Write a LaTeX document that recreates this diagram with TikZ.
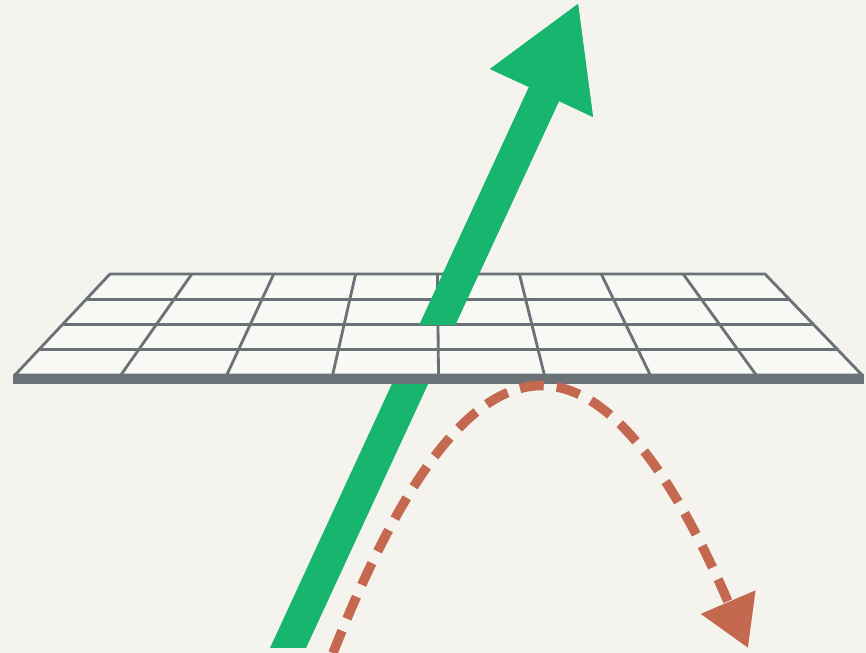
\documentclass[tikz,border=0pt]{standalone}
\usepackage{xcolor}
\usepackage{tikz}
\usetikzlibrary{arrows.meta,calc}
\definecolor{paper}   {HTML}{F4F3EE}
\definecolor{platebg} {HTML}{F8F8F5}
\definecolor{steel}   {HTML}{6A7177}
\definecolor{emerald} {HTML}{17B56E}
\definecolor{clay}    {HTML}{C4684F}
\tikzset{
  plate/.style   = {fill=platebg, draw=steel, line width=0.8pt, line join=round},
  mesh/.style    = {draw=steel, line width=0.8pt},
  edgebar/.style = {fill=steel},
  rise/.style    = {fill=emerald},
  fall/.style    = {draw=clay, line width=0.95mm, dash pattern=on 2.4mm off 1.3mm,
                    -{Triangle[length=5mm, width=5.7mm]}},
}

\begin{document}
\begin{tikzpicture}[scale=1]
  % page
  \fill[paper] (0,0) rectangle (8.66,6.53);
  \useasboundingbox (0,0) rectangle (8.66,6.53);

  % plane corners
  \coordinate (tl) at (1.10,3.79);
  \coordinate (tr) at (7.65,3.79);
  \coordinate (bl) at (0.15,2.78);
  \coordinate (br) at (8.62,2.78);

  % green arrow outline
  \coordinate (foot-l) at (2.70,0.05);
  \coordinate (foot-r) at (3.06,0.05);
  \coordinate (neck-l) at (5.29,5.66);
  \coordinate (neck-r) at (5.59,5.52);
  \coordinate (barb-l) at (4.90,5.84);
  \coordinate (barb-r) at (5.93,5.36);
  \coordinate (tip)    at (5.78,6.49);

  % arrow, lower part (rest is hidden by the plane)
  \fill[rise] (foot-l) -- (neck-l) -- (barb-l) -- (tip) -- (barb-r) -- (neck-r) -- (foot-r) -- cycle;

  % the plane
  \path[plate] (tl) -- (tr) -- (br) -- (bl) -- cycle;
  \foreach \i in {1,...,7}
    \draw[mesh] ($(tl)!\i/8!(tr)$) -- ($(bl)!\i/8!(br)$);
  \foreach \j in {1,2,3}
    \draw[mesh] ($(tl)!\j/4!(bl)$) -- ($(tr)!\j/4!(br)$);
  \fill[edgebar] (0.13,2.69) rectangle (8.64,2.79);

  % arrow, part above the plane
  \begin{scope}
    \clip (0,3.285) rectangle (8.66,6.53);
    \fill[rise] (foot-l) -- (neck-l) -- (barb-l) -- (tip) -- (barb-r) -- (neck-r) -- (foot-r) -- cycle;
  \end{scope}

  % dashed arc below
  \coordinate (arc-s) at (3.33,0.00);
  \coordinate (arc-e) at (7.48,0.05);
  \draw[fall] (arc-s) .. controls (4.70,3.48) and (6.00,3.48) .. (arc-e);
\end{tikzpicture}
\end{document}
